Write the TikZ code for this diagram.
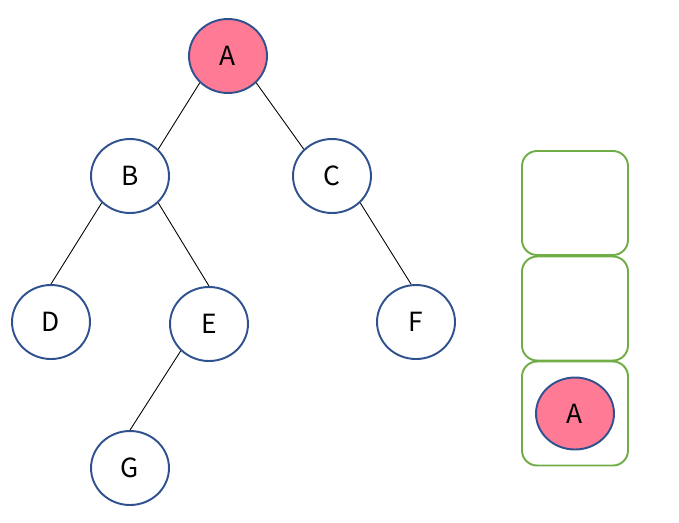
\documentclass[tikz,border=0pt]{standalone}
\usepackage{fontspec}
\setmainfont{Noto Sans CJK SC}
\usetikzlibrary{shapes.geometric}

\definecolor{nodeborder}{HTML}{2F528F}
\definecolor{visited}{HTML}{FF7A95}
\definecolor{stackgreen}{HTML}{70AD47}

\begin{document}
\begin{tikzpicture}[x=0.02cm, y=-0.02cm]
		\tikzset{
			vertex/.style={ellipse, draw=nodeborder, fill=white, line width=1.1pt, minimum width=1.56cm, minimum height=1.48cm, inner sep=0pt, font=\fontsize{15}{18}\selectfont},
			current/.style={vertex, fill=visited},
			edge/.style={draw=black, line width=0.5pt},
			slot/.style={rectangle, rounded corners=0.3cm, draw=stackgreen, line width=1.1pt, minimum width=2.12cm, minimum height=2.08cm}
		}
		\useasboundingbox (0,0) rectangle (679,522);

		\node[current] (a) at (228,56) {A};
		\node[vertex] (b) at (130,176) {B};
		\node[vertex] (c) at (332,176) {C};
		\node[vertex] (d) at (51,322) {D};
		\node[vertex] (e) at (209,324) {E};
		\node[vertex] (f) at (416,322) {F};
		\node[vertex] (g) at (130,468) {G};

		\draw[edge] (a.south west) -- (b.north east);
		\draw[edge] (a.south east) -- (c.north west);
		\draw[edge] (b.south west) -- (d.north);
		\draw[edge] (b.south east) -- (e.north);
		\draw[edge] (c.south east) -- ([xshift=-0.1cm]f.north);
		\draw[edge] (e.south west) -- (g.north);

		% stack
		\node[slot] (top) at (575,203) {};
		\node[slot] (mid) at (575,308.5) {};
		\node[slot] (bottom) at (575,413.5) {};
		\node[current, minimum width=1.56cm, minimum height=1.44cm] (stacka) at (bottom.center) {A};
	\end{tikzpicture}
\end{document}
